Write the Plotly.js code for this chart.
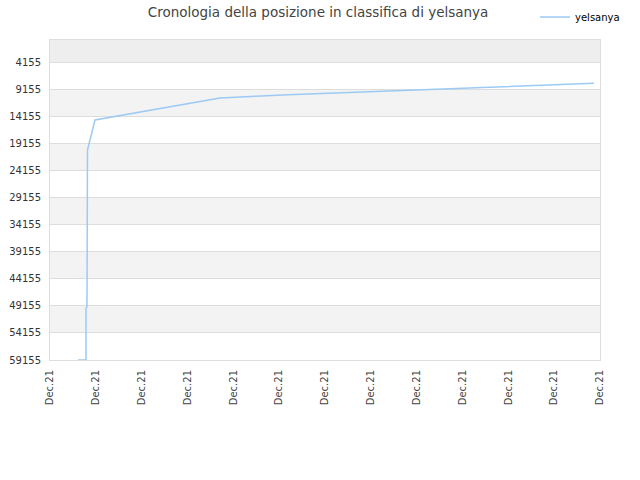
<!DOCTYPE html>
<html>
<head>
<meta charset="utf-8">
<script src="https://cdn.plot.ly/plotly-3.0.1.min.js"></script>
<style>
  body { margin: 0; background: #fff; }
  #chart { width: 640px; height: 480px; }
</style>
</head>
<body>
<div id="chart"></div>
<script>
// position history of yelsanya (x = position along the Dec.21 axis, y = rank)
var dayPos = [0.61, 0.785, 0.785, 0.807, 0.818, 0.829, 0.982, 3.709, 4.036, 4.604, 5.193, 5.760,
              6.327, 6.938, 7.505, 8.073, 8.662, 9.251, 9.818, 10.407, 10.996, 11.564, 11.869];
var rankVals = [59155, 59155, 49540, 49360, 20335, 19965, 14790, 10720, 10540, 10350, 10110, 9930,
                9740, 9520, 9370, 9190, 9000, 8820, 8600, 8370, 8190, 8000, 8000];

var yTicks = [4155, 9155, 14155, 19155, 24155, 29155, 34155, 39155, 44155, 49155, 54155, 59155];
var yLabels = yTicks.map(function(v){ return String(v); });
var xTicks = [0, 1, 2, 3, 4, 5, 6, 7, 8, 9, 10, 11, 12];
var xLabels = xTicks.map(function(){ return "Dec.21"; });
var seriesName = "yelsanya";

// alternating grey bands between the rank ticks
var shapes = [{
    type: 'rect', xref: 'paper', yref: 'y', x0: 0, x1: 1, y0: 0, y1: yTicks[0],
    fillcolor: '#eeeeee', line: {width: 0}, layer: 'below'
}];
for (var i = 1; i < yTicks.length - 1; i += 2){
    shapes.push({
        type: 'rect', xref: 'paper', yref: 'y', x0: 0, x1: 1,
        y0: yTicks[i], y1: yTicks[i+1],
        fillcolor: '#f3f3f3', line: {width: 0}, layer: 'below'
    });
}

var trace1 = {
    x: dayPos,
    y: rankVals,
    type: 'scatter',
    mode: 'lines',
    name: seriesName,
    line: {color: '#9ccaf5', width: 1.5}
};

var layout = {
    width: 640,
    height: 480,
    margin: {l: 50, r: 40, t: 40, b: 120, autoexpand: false},
    paper_bgcolor: '#ffffff',
    plot_bgcolor: '#ffffff',
    font: {family: 'DejaVu Sans', size: 10, color: '#333'},
    title: {
        text: 'Cronologia della posizione in classifica di yelsanya',
        font: {family: 'DejaVu Sans', size: 13.5, color: '#444'},
        x: 0.497, xanchor: 'center', y: 0.975, yanchor: 'middle'
    },
    showlegend: true,
    legend: {
        xref: 'container', yref: 'container',
        x: 0.836, xanchor: 'left', y: 0.995, yanchor: 'top',
        font: {family: 'DejaVu Sans', size: 10, color: '#000'},
        itemwidth: 30, bgcolor: 'rgba(0,0,0,0)'
    },
    xaxis: {
        range: [0, 12],
        tickvals: xTicks,
        ticktext: xLabels,
        tickangle: -90,
        showgrid: false,
        zeroline: false,
        showline: true, mirror: true, linecolor: '#dddddd', linewidth: 1,
        ticks: '', ticklabelstandoff: 5, tickfont: {size: 10, color: '#444'}
    },
    yaxis: {
        range: [59155, 0],
        tickvals: yTicks,
        ticktext: yLabels,
        showgrid: true, gridcolor: '#dddddd',
        zeroline: false,
        showline: true, mirror: true, linecolor: '#dddddd', linewidth: 1,
        ticks: '', ticklabelstandoff: 6, tickfont: {size: 10, color: '#333'}
    },
    shapes: shapes
};

Plotly.newPlot('chart', [trace1], layout, {displayModeBar: false});
</script>
</body>
</html>
